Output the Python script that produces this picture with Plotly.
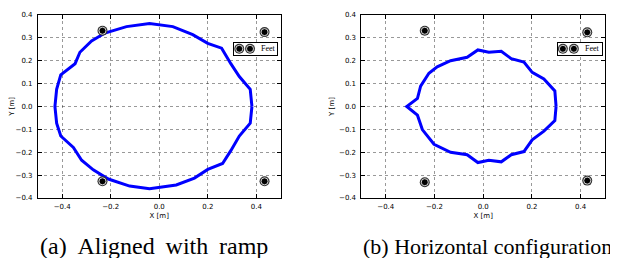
import plotly.graph_objects as go

# ---------------- data ----------------
# (a) Aligned with ramp
curve_a_x = [0.382, 0.375, 0.330, 0.295, 0.257, 0.200, 0.138, 0.056, -0.040, -0.135, -0.224, -0.279,
             -0.327, -0.347, -0.406, -0.423, -0.430, -0.423, -0.406, -0.354, -0.320, -0.272, -0.210,
             -0.122, -0.040, 0.070, 0.145, 0.200, 0.261, 0.295, 0.330, 0.375, 0.382]
curve_a_y = [0.0, 0.075, 0.131, 0.187, 0.255, 0.276, 0.314, 0.349, 0.363, 0.349, 0.321, 0.286,
             0.237, 0.187, 0.138, 0.075, 0.0, -0.073, -0.129, -0.179, -0.235, -0.277, -0.317,
             -0.348, -0.359, -0.343, -0.313, -0.275, -0.249, -0.193, -0.129, -0.073, 0.0]
feet_a_x = [-0.234, 0.434, -0.234, 0.434]
feet_a_y = [0.331, 0.325, -0.327, -0.327]

# (b) Horizontal configuration
curve_b_x = [0.299, 0.294, 0.249, 0.201, 0.167, 0.115, 0.074, 0.023, -0.022, -0.066, -0.134, -0.189,
             -0.223, -0.257, -0.270, -0.314, -0.270, -0.250, -0.202, -0.134, -0.066, -0.022, 0.023,
             0.074, 0.115, 0.167, 0.201, 0.249, 0.294, 0.299]
curve_b_y = [0.0, 0.068, 0.120, 0.149, 0.194, 0.209, 0.241, 0.237, 0.247, 0.215, 0.200, 0.173,
             0.145, 0.089, 0.035, 0.0, -0.038, -0.101, -0.165, -0.200, -0.211, -0.245, -0.235,
             -0.242, -0.211, -0.197, -0.146, -0.108, -0.062, 0.0]
feet_b_x = [-0.240, 0.427, -0.240, 0.427]
feet_b_y = [0.331, 0.324, -0.331, -0.324]

x_ticks = [-0.4, -0.2, 0.0, 0.2, 0.4]
y_ticks = [-0.4, -0.3, -0.2, -0.1, 0.0, 0.1, 0.2, 0.3, 0.4]
legend_label = "Feet"
legend_marker_x = [0.12, 0.37]
captions = ["(a) Aligned with ramp", "(b) Horizontal configuration."]

# ---------------- layout helpers ----------------
W, H = 618, 258
SERIF = "Liberation Serif"


def px_x(a, b):
    return [a / W, b / W]


def px_y(top, bottom):
    return [(H - bottom) / H, (H - top) / H]


TICKFONT = dict(family="DejaVu Sans", size=7, color="black")

fig = go.Figure()


def add_feet(xs, ys, xa, ya):
    fig.add_trace(go.Scatter(x=xs, y=ys, mode="markers", xaxis=xa, yaxis=ya,
                             marker=dict(color="#333", size=10, line=dict(width=0)),
                             showlegend=False, hoverinfo="skip", cliponaxis=False))
    fig.add_trace(go.Scatter(x=xs, y=ys, mode="markers", xaxis=xa, yaxis=ya,
                             marker=dict(color="black", size=7, line=dict(color="white", width=0.8)),
                             showlegend=False, hoverinfo="skip", cliponaxis=False))


# panel a
fig.add_trace(go.Scatter(x=curve_a_x, y=curve_a_y, mode="lines", xaxis="x", yaxis="y",
                         line=dict(color="#0000ff", width=3), showlegend=False))
add_feet(feet_a_x, feet_a_y, "x", "y")
# panel b
fig.add_trace(go.Scatter(x=curve_b_x, y=curve_b_y, mode="lines", xaxis="x2", yaxis="y2",
                         line=dict(color="#0000ff", width=3), showlegend=False))
add_feet(feet_b_x, feet_b_y, "x2", "y2")
# legend boxes (mini axes)
add_feet(legend_marker_x, [0.5, 0.5], "x3", "y3")
add_feet(legend_marker_x, [0.5, 0.5], "x4", "y4")

axis_common = dict(showline=True, linecolor="black", linewidth=1, mirror="ticks",
                   ticks="inside", ticklen=4, tickwidth=0.8, tickcolor="black",
                   showgrid=True, gridcolor="rgba(0,0,0,0.4)", gridwidth=0.8, griddash="dot",
                   zeroline=False, tickfont=TICKFONT, tickformat=".1f",
                   ticklabeloverflow="allow")

xa = dict(axis_common, range=[-0.5, 0.5], tickvals=x_ticks, ticklabelstandoff=2,
          title=dict(text="X [m]", font=dict(family="DejaVu Sans", size=7, color="black"), standoff=2))
ya = dict(axis_common, range=[-0.4002, 0.4002], tickvals=y_ticks, ticklabelstandoff=3,
          title=dict(text="Y [m]", font=dict(family="DejaVu Sans", size=7, color="black"), standoff=3))

legend_axis = dict(range=[0, 1], showgrid=False, zeroline=False, showticklabels=False,
                   showline=True, linecolor="black", linewidth=1, mirror=True, ticks="",
                   fixedrange=True)

fig.update_layout(
    width=W, height=H,
    margin=dict(l=0, r=0, t=0, b=0),
    paper_bgcolor="white", plot_bgcolor="white",
    showlegend=False,
    xaxis=dict(xa, domain=px_x(29, 272), anchor="y"),
    yaxis=dict(ya, domain=px_y(3, 192), anchor="x"),
    xaxis2=dict(xa, domain=px_x(353, 597), anchor="y2"),
    yaxis2=dict(ya, domain=px_y(3, 192), anchor="x2"),
    xaxis3=dict(legend_axis, domain=px_x(225.5, 268.5), anchor="y3"),
    yaxis3=dict(legend_axis, domain=px_y(31.5, 44.5), anchor="x3"),
    xaxis4=dict(legend_axis, domain=px_x(549.5, 593.5), anchor="y4"),
    yaxis4=dict(legend_axis, domain=px_y(31.5, 44.5), anchor="x4"),
)

# legend text
for xr, yr in (("x3", "y3"), ("x4", "y4")):
    fig.add_annotation(x=0.57, y=0.5, xref=xr, yref=yr, text=legend_label, showarrow=False,
                       xanchor="left", yanchor="middle",
                       font=dict(family=SERIF, size=8, color="black"))

# captions (caption (a) is set with slightly wider word spacing, as in the reference)
cap_a = captions[0].replace(" ", " \u2009")
for cx, text, size in ((145, cap_a, 24), (482, captions[1], 22)):
    fig.add_annotation(x=cx / W, y=(H - 242) / H, xref="paper", yref="paper", text=text,
                       showarrow=False, xanchor="center", yanchor="middle",
                       font=dict(family=SERIF, size=size, color="black"))

fig.write_html("out.html")
